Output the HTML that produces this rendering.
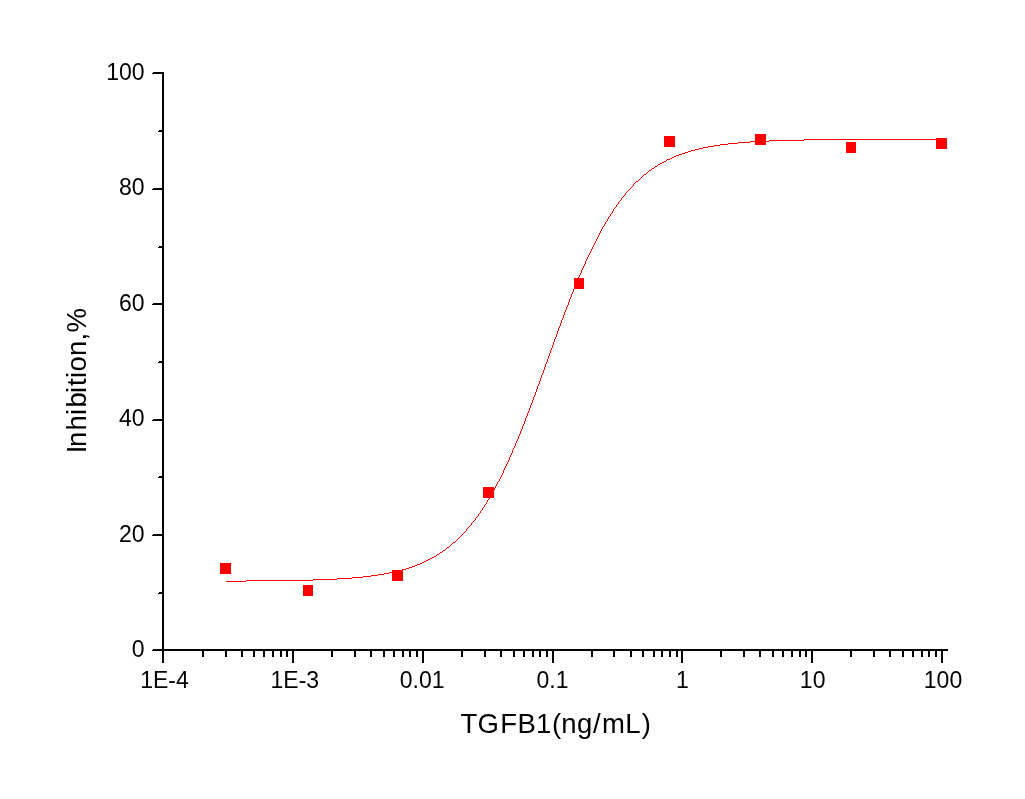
<!DOCTYPE html>
<html><head><meta charset="utf-8"><title>TGFB1 inhibition</title>
<style>
html,body{margin:0;padding:0;background:#fff}
body{width:1025px;height:799px;position:relative;overflow:hidden;font-family:"Liberation Sans",Arial,sans-serif;color:#000}
.r{position:absolute}
.t{position:absolute;white-space:nowrap;line-height:26px;height:26px}
.yl{font-size:23px;text-align:right}
.xl{font-size:23px;width:100px;text-align:center}
.xt{font-size:27.5px;width:300px;text-align:left;line-height:40px;height:40px;letter-spacing:0.3px}
.yt{font-size:27.5px;line-height:40px;height:40px;letter-spacing:0.3px;transform:rotate(-90deg);transform-origin:0 0}
.cv{position:absolute;left:0;top:0}
</style></head><body>
<div class="r" style="left:162px;top:72px;width:2px;height:579px;background:#000"></div>
<div class="r" style="left:153px;top:649px;width:795px;height:1px;background:#000"></div>
<div class="r" style="left:152px;top:650px;width:796px;height:1px;background:#000"></div>
<div class="r" style="left:159px;top:592px;width:3px;height:1px;background:#000"></div>
<div class="r" style="left:158px;top:593px;width:4px;height:1px;background:#000"></div>
<div class="r" style="left:153px;top:534px;width:9px;height:1px;background:#000"></div>
<div class="r" style="left:152px;top:535px;width:10px;height:1px;background:#000"></div>
<div class="r" style="left:159px;top:476px;width:3px;height:1px;background:#000"></div>
<div class="r" style="left:158px;top:477px;width:4px;height:1px;background:#000"></div>
<div class="r" style="left:153px;top:419px;width:9px;height:1px;background:#000"></div>
<div class="r" style="left:152px;top:420px;width:10px;height:1px;background:#000"></div>
<div class="r" style="left:159px;top:361px;width:3px;height:1px;background:#000"></div>
<div class="r" style="left:158px;top:362px;width:4px;height:1px;background:#000"></div>
<div class="r" style="left:153px;top:303px;width:9px;height:1px;background:#000"></div>
<div class="r" style="left:152px;top:304px;width:10px;height:1px;background:#000"></div>
<div class="r" style="left:159px;top:246px;width:3px;height:1px;background:#000"></div>
<div class="r" style="left:158px;top:247px;width:4px;height:1px;background:#000"></div>
<div class="r" style="left:153px;top:188px;width:9px;height:1px;background:#000"></div>
<div class="r" style="left:152px;top:189px;width:10px;height:1px;background:#000"></div>
<div class="r" style="left:159px;top:130px;width:3px;height:1px;background:#000"></div>
<div class="r" style="left:158px;top:131px;width:4px;height:1px;background:#000"></div>
<div class="r" style="left:153px;top:72px;width:9px;height:1px;background:#000"></div>
<div class="r" style="left:152px;top:73px;width:10px;height:1px;background:#000"></div>
<div class="r" style="left:162px;top:649px;width:2px;height:14px;background:#000"></div>
<div class="r" style="left:202px;top:649px;width:2px;height:8px;background:#000"></div>
<div class="r" style="left:225px;top:649px;width:2px;height:8px;background:#000"></div>
<div class="r" style="left:241px;top:649px;width:2px;height:8px;background:#000"></div>
<div class="r" style="left:253px;top:649px;width:2px;height:8px;background:#000"></div>
<div class="r" style="left:263px;top:649px;width:2px;height:8px;background:#000"></div>
<div class="r" style="left:272px;top:649px;width:2px;height:8px;background:#000"></div>
<div class="r" style="left:280px;top:649px;width:2px;height:8px;background:#000"></div>
<div class="r" style="left:286px;top:649px;width:2px;height:8px;background:#000"></div>
<div class="r" style="left:292px;top:649px;width:2px;height:14px;background:#000"></div>
<div class="r" style="left:331px;top:649px;width:2px;height:8px;background:#000"></div>
<div class="r" style="left:354px;top:649px;width:2px;height:8px;background:#000"></div>
<div class="r" style="left:370px;top:649px;width:2px;height:8px;background:#000"></div>
<div class="r" style="left:383px;top:649px;width:2px;height:8px;background:#000"></div>
<div class="r" style="left:393px;top:649px;width:2px;height:8px;background:#000"></div>
<div class="r" style="left:402px;top:649px;width:2px;height:8px;background:#000"></div>
<div class="r" style="left:409px;top:649px;width:2px;height:8px;background:#000"></div>
<div class="r" style="left:416px;top:649px;width:2px;height:8px;background:#000"></div>
<div class="r" style="left:422px;top:649px;width:2px;height:14px;background:#000"></div>
<div class="r" style="left:461px;top:649px;width:2px;height:8px;background:#000"></div>
<div class="r" style="left:484px;top:649px;width:2px;height:8px;background:#000"></div>
<div class="r" style="left:500px;top:649px;width:2px;height:8px;background:#000"></div>
<div class="r" style="left:513px;top:649px;width:2px;height:8px;background:#000"></div>
<div class="r" style="left:523px;top:649px;width:2px;height:8px;background:#000"></div>
<div class="r" style="left:532px;top:649px;width:2px;height:8px;background:#000"></div>
<div class="r" style="left:539px;top:649px;width:2px;height:8px;background:#000"></div>
<div class="r" style="left:546px;top:649px;width:2px;height:8px;background:#000"></div>
<div class="r" style="left:552px;top:649px;width:2px;height:14px;background:#000"></div>
<div class="r" style="left:591px;top:649px;width:2px;height:8px;background:#000"></div>
<div class="r" style="left:613px;top:649px;width:2px;height:8px;background:#000"></div>
<div class="r" style="left:630px;top:649px;width:2px;height:8px;background:#000"></div>
<div class="r" style="left:642px;top:649px;width:2px;height:8px;background:#000"></div>
<div class="r" style="left:653px;top:649px;width:2px;height:8px;background:#000"></div>
<div class="r" style="left:661px;top:649px;width:2px;height:8px;background:#000"></div>
<div class="r" style="left:669px;top:649px;width:2px;height:8px;background:#000"></div>
<div class="r" style="left:676px;top:649px;width:2px;height:8px;background:#000"></div>
<div class="r" style="left:681px;top:649px;width:2px;height:14px;background:#000"></div>
<div class="r" style="left:720px;top:649px;width:2px;height:8px;background:#000"></div>
<div class="r" style="left:743px;top:649px;width:2px;height:8px;background:#000"></div>
<div class="r" style="left:759px;top:649px;width:2px;height:8px;background:#000"></div>
<div class="r" style="left:772px;top:649px;width:2px;height:8px;background:#000"></div>
<div class="r" style="left:782px;top:649px;width:2px;height:8px;background:#000"></div>
<div class="r" style="left:791px;top:649px;width:2px;height:8px;background:#000"></div>
<div class="r" style="left:799px;top:649px;width:2px;height:8px;background:#000"></div>
<div class="r" style="left:805px;top:649px;width:2px;height:8px;background:#000"></div>
<div class="r" style="left:811px;top:649px;width:2px;height:14px;background:#000"></div>
<div class="r" style="left:850px;top:649px;width:2px;height:8px;background:#000"></div>
<div class="r" style="left:873px;top:649px;width:2px;height:8px;background:#000"></div>
<div class="r" style="left:889px;top:649px;width:2px;height:8px;background:#000"></div>
<div class="r" style="left:902px;top:649px;width:2px;height:8px;background:#000"></div>
<div class="r" style="left:912px;top:649px;width:2px;height:8px;background:#000"></div>
<div class="r" style="left:921px;top:649px;width:2px;height:8px;background:#000"></div>
<div class="r" style="left:928px;top:649px;width:2px;height:8px;background:#000"></div>
<div class="r" style="left:935px;top:649px;width:2px;height:8px;background:#000"></div>
<div class="r" style="left:941px;top:649px;width:2px;height:14px;background:#000"></div>
<div class="t yl" style="right:880.5px;top:636px">0</div>
<div class="t yl" style="right:880.5px;top:521px">20</div>
<div class="t yl" style="right:880.5px;top:405px">40</div>
<div class="t yl" style="right:880.5px;top:290px">60</div>
<div class="t yl" style="right:880.5px;top:174px">80</div>
<div class="t yl" style="right:880.5px;top:59px">100</div>
<div class="t xl" style="left:114.50px;top:666.50px">1E-4</div>
<div class="t xl" style="left:244.83px;top:666.50px">1E-3</div>
<div class="t xl" style="left:372.17px;top:666.50px">0.01</div>
<div class="t xl" style="left:502.50px;top:666.50px">0.1</div>
<div class="t xl" style="left:632.33px;top:666.50px">1</div>
<div class="t xl" style="left:762.67px;top:666.50px">10</div>
<div class="t xl" style="left:893.00px;top:666.50px">100</div>
<svg class="cv" width="1025" height="799" viewBox="0 0 1025 799" style="font-family:'Liberation Sans',Arial,sans-serif;font-size:27.5px;letter-spacing:0.3px" fill="#000"><text x="460.5" y="732.6" dx="0 0 1 0 0 0.2 0 0 0.5 1 0 1">TGFB1(ng/mL)</text><text transform="translate(85.6,454.9) rotate(-90)" dx="1.6 -1.6 0.8 0 1 -1.2 0.7 0 0 0 0 0">Inhibition,%</text></svg>
<svg class="cv" width="1025" height="799" viewBox="0 0 1025 799"><path fill="#f00" shape-rendering="crispEdges" d="M246 580h67v1h-67zM313 579h24v1h-24zM389 572h5v1h-5zM226 581h20v1h-20zM750 141h19v1h-19zM720 144h8v1h-8zM424 561h2v1h-2zM685 152h3v1h-3zM804 139h138v1h-138zM664 161h2v1h-2zM394 571h4v1h-4zM655 166h2v1h-2zM708 146h6v1h-6zM660 163h2v1h-2zM644 174h2v1h-2zM691 150h4v1h-4zM769 140h35v1h-35zM728 143h10v1h-10zM402 569h4v1h-4zM363 576h8v1h-8zM434 556h2v1h-2zM695 149h4v1h-4zM674 156h2v1h-2zM714 145h6v1h-6zM384 573h5v1h-5zM409 567h3v1h-3zM420 563h2v1h-2zM703 147h5v1h-5zM652 168h2v1h-2zM415 565h2v1h-2zM738 142h12v1h-12zM453 542h2v1h-2zM430 558h2v1h-2zM670 158h2v1h-2zM337 578h15v1h-15zM352 577h11v1h-11zM682 153h3v1h-3zM658 164h2v1h-2zM426 560h2v1h-2zM398 570h4v1h-4zM443 550h2v1h-2zM636 181h2v1h-2zM422 562h2v1h-2zM662 162h2v1h-2zM378 574h6v1h-6zM406 568h3v1h-3zM371 575h7v1h-7zM699 148h4v1h-4zM676 155h3v1h-3zM688 151h3v1h-3zM417 564h3v1h-3zM412 566h3v1h-3zM437 554h2v1h-2zM428 559h2v1h-2zM679 154h3v1h-3zM649 170h2v1h-2zM447 547h2v1h-2zM667 159h3v1h-3zM440 552h2v1h-2zM432 557h2v1h-2zM672 157h2v1h-2zM581 270h1v3h-1zM499 479h1v2h-1zM593 245h1v2h-1zM629 189h1v1h-1zM511 453h1v2h-1zM557 331h1v3h-1zM539 381h1v3h-1zM459 537h1v1h-1zM609 216h1v1h-1zM548 356h1v3h-1zM621 198h1v2h-1zM601 229h1v2h-1zM456 540h1v1h-1zM503 470h1v3h-1zM556 334h1v3h-1zM552 345h1v3h-1zM577 280h1v2h-1zM495 486h1v2h-1zM544 367h1v3h-1zM519 434h1v2h-1zM487 500h1v2h-1zM605 222h1v2h-1zM569 299h1v3h-1zM585 261h1v3h-1zM597 237h1v2h-1zM518 436h1v3h-1zM471 523h1v2h-1zM494 488h1v2h-1zM483 507h1v1h-1zM568 302h1v3h-1zM527 413h1v3h-1zM531 403h1v2h-1zM535 392h1v3h-1zM466 529h1v2h-1zM596 239h1v2h-1zM560 323h1v3h-1zM490 495h1v2h-1zM530 405h1v3h-1zM515 443h1v3h-1zM580 273h1v2h-1zM592 247h1v2h-1zM474 520h1v1h-1zM547 359h1v3h-1zM559 326h1v2h-1zM486 502h1v2h-1zM608 217h1v2h-1zM551 348h1v2h-1zM572 292h1v2h-1zM502 473h1v2h-1zM612 211h1v2h-1zM615 207h1v1h-1zM604 224h1v2h-1zM510 455h1v2h-1zM463 533h1v1h-1zM584 264h1v2h-1zM571 294h1v3h-1zM498 481h1v1h-1zM587 257h1v2h-1zM576 282h1v3h-1zM461 535h1v1h-1zM439 553h1v1h-1zM600 231h1v2h-1zM509 457h1v3h-1zM543 370h1v3h-1zM555 337h1v2h-1zM550 350h1v3h-1zM505 466h1v2h-1zM554 339h1v3h-1zM517 439h1v2h-1zM558 328h1v3h-1zM482 508h1v2h-1zM567 305h1v2h-1zM595 241h1v2h-1zM563 315h1v3h-1zM526 416h1v2h-1zM643 175h1v1h-1zM458 538h1v1h-1zM611 213h1v1h-1zM566 307h1v3h-1zM623 196h1v1h-1zM647 172h1v1h-1zM570 297h1v2h-1zM533 397h1v3h-1zM579 275h1v2h-1zM591 249h1v2h-1zM525 418h1v3h-1zM445 549h1v1h-1zM546 362h1v2h-1zM607 219h1v2h-1zM575 285h1v2h-1zM631 187h1v1h-1zM634 183h1v1h-1zM449 546h1v1h-1zM493 490h1v2h-1zM599 233h1v2h-1zM542 373h1v2h-1zM578 277h1v3h-1zM473 521h1v1h-1zM590 251h1v2h-1zM545 364h1v3h-1zM480 511h1v2h-1zM549 353h1v3h-1zM583 266h1v2h-1zM465 531h1v1h-1zM489 497h1v2h-1zM504 468h1v2h-1zM516 441h1v2h-1zM586 259h1v2h-1zM529 408h1v3h-1zM508 460h1v2h-1zM618 202h1v2h-1zM638 180h1v1h-1zM594 243h1v2h-1zM524 421h1v3h-1zM501 475h1v2h-1zM565 310h1v2h-1zM528 411h1v2h-1zM541 375h1v3h-1zM553 342h1v3h-1zM626 192h1v1h-1zM468 527h1v1h-1zM537 386h1v3h-1zM492 492h1v2h-1zM562 318h1v2h-1zM540 378h1v3h-1zM657 165h1v1h-1zM476 517h1v1h-1zM582 268h1v2h-1zM610 214h1v2h-1zM561 320h1v3h-1zM574 287h1v2h-1zM633 184h1v2h-1zM598 235h1v2h-1zM507 462h1v2h-1zM614 208h1v1h-1zM523 424h1v2h-1zM512 450h1v3h-1zM479 513h1v1h-1zM573 289h1v3h-1zM536 389h1v3h-1zM589 253h1v2h-1zM460 536h1v1h-1zM625 193h1v2h-1zM617 204h1v1h-1zM620 200h1v1h-1zM640 178h1v1h-1zM564 312h1v3h-1zM436 555h1v1h-1zM475 518h1v2h-1zM628 190h1v1h-1zM506 464h1v2h-1zM613 209h1v2h-1zM451 544h1v1h-1zM651 169h1v1h-1zM455 541h1v1h-1zM478 514h1v2h-1zM514 446h1v2h-1zM470 525h1v1h-1zM522 426h1v3h-1zM616 205h1v2h-1zM632 186h1v1h-1zM588 255h1v2h-1zM497 482h1v2h-1zM603 226h1v1h-1zM462 534h1v1h-1zM538 384h1v2h-1zM485 504h1v1h-1zM442 551h1v1h-1zM513 448h1v2h-1zM481 510h1v1h-1zM521 429h1v2h-1zM624 195h1v1h-1zM534 395h1v2h-1zM642 176h1v1h-1zM457 539h1v1h-1zM446 548h1v1h-1zM619 201h1v1h-1zM646 173h1v1h-1zM635 182h1v1h-1zM520 431h1v3h-1zM450 545h1v1h-1zM666 160h1v1h-1zM639 179h1v1h-1zM500 477h1v2h-1zM630 188h1v1h-1zM469 526h1v1h-1zM532 400h1v3h-1zM627 191h1v1h-1zM496 484h1v2h-1zM488 499h1v1h-1zM622 197h1v1h-1zM477 516h1v1h-1zM654 167h1v1h-1zM484 505h1v2h-1zM606 221h1v1h-1zM602 227h1v2h-1zM464 532h1v1h-1zM472 522h1v1h-1zM648 171h1v1h-1zM452 543h1v1h-1zM641 177h1v1h-1zM467 528h1v1h-1zM491 494h1v1h-1z"/></svg>
<div class="r" style="left:220px;top:563px;width:11px;height:11px;background:#f00"></div>
<div class="r" style="left:303px;top:585px;width:10px;height:11px;background:#f00"></div>
<div class="r" style="left:392px;top:570px;width:11px;height:11px;background:#f00"></div>
<div class="r" style="left:483px;top:487px;width:11px;height:11px;background:#f00"></div>
<div class="r" style="left:574px;top:278px;width:10px;height:11px;background:#f00"></div>
<div class="r" style="left:664px;top:136px;width:11px;height:11px;background:#f00"></div>
<div class="r" style="left:755px;top:134px;width:11px;height:11px;background:#f00"></div>
<div class="r" style="left:846px;top:142px;width:10px;height:11px;background:#f00"></div>
<div class="r" style="left:936px;top:138px;width:11px;height:11px;background:#f00"></div>
</body></html>
